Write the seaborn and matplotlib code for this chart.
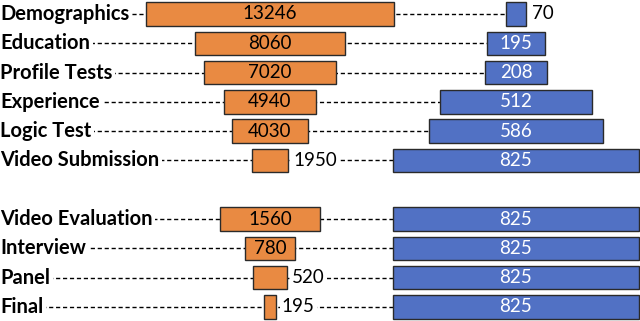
import numpy as np
import pandas as pd
import matplotlib
matplotlib.use("Agg")
import matplotlib.pyplot as plt
import seaborn as sns

# stages (two groups, with a blank row between them)
top_stages = ["Demographics", "Education", "Profile Tests", "Experience", "Logic Test", "Video Submission"]
top_orange = [13246, 8060, 7020, 4940, 4030, 1950]
top_blue = [70, 195, 208, 512, 586, 825]

bottom_stages = ["Video Evaluation", "Interview", "Panel", "Final"]
bottom_orange = [1560, 780, 520, 195]
bottom_blue = [825, 825, 825, 825]

orange = "#E98A42"
blue = "#5171C4"
edge = "#2a2a2a"

sns.set_theme(style="white")
plt.rcParams["font.family"] = ["Lato", "DejaVu Sans"]

W, H = 640, 321
fig = plt.figure(figsize=(W / 100, H / 100), dpi=100)

row_px = 29.3
first_px = 14
ylo = -first_px / row_px
yhi = (H - first_px) / row_px

# base axes: dashed leader lines + stage names
base = fig.add_axes([0, 0, 1, 1])
base.set_xlim(0, W)
base.set_ylim(yhi, ylo)
base.axis("off")

orange_cx, blue_cx = 270, 516


def draw_group(stages, o_vals, b_vals, offset, o_scale, b_scale):
    rows = np.arange(len(stages)) + offset
    base.hlines(rows, 0, blue_cx, colors="black", linestyles=(0, (3, 2)), linewidth=1, zorder=1)
    for r, s in zip(rows, stages):
        base.text(0, r, s, fontsize=14.5, fontweight="bold", color="black", va="center", ha="left",
                  bbox=dict(facecolor="white", edgecolor="none", pad=2), zorder=2)

    for vals, scale, cx, col, txtcol in [(o_vals, o_scale, orange_cx, orange, "black"),
                                         (b_vals, b_scale, blue_cx, blue, "white")]:
        ax = fig.add_axes([0, 0, 1, 1])
        ax.patch.set_alpha(0)
        df = pd.DataFrame({"stage": stages, "value": vals})
        v = np.array(vals, dtype=float)
        sns.barplot(data=df, x="value", y="stage", orient="h", color=col, saturation=1,
                    errorbar=None, width=0.8, left=-v / 2, edgecolor=edge, linewidth=1, ax=ax)
        ax.set_xlim(-cx / scale, (W - cx) / scale)
        ax.set_ylim(yhi - offset, ylo - offset)
        ax.axis("off")
        for i, val in enumerate(vals):
            if val * scale > 40:
                ax.text(0, i, str(val), ha="center", va="center", fontsize=13.5, color=txtcol)
            else:
                ax.annotate(str(val), xy=(val / 2, i), xytext=(4, 0), textcoords="offset points",
                            ha="left", va="center", fontsize=13.5, color="black",
                            bbox=dict(facecolor="white", edgecolor="none", pad=1.5))


draw_group(top_stages, top_orange, top_blue, 0, 0.0187, 0.297)
draw_group(bottom_stages, bottom_orange, bottom_blue, 7, 0.0635, 0.297)

fig.savefig("out.png", dpi=100)
